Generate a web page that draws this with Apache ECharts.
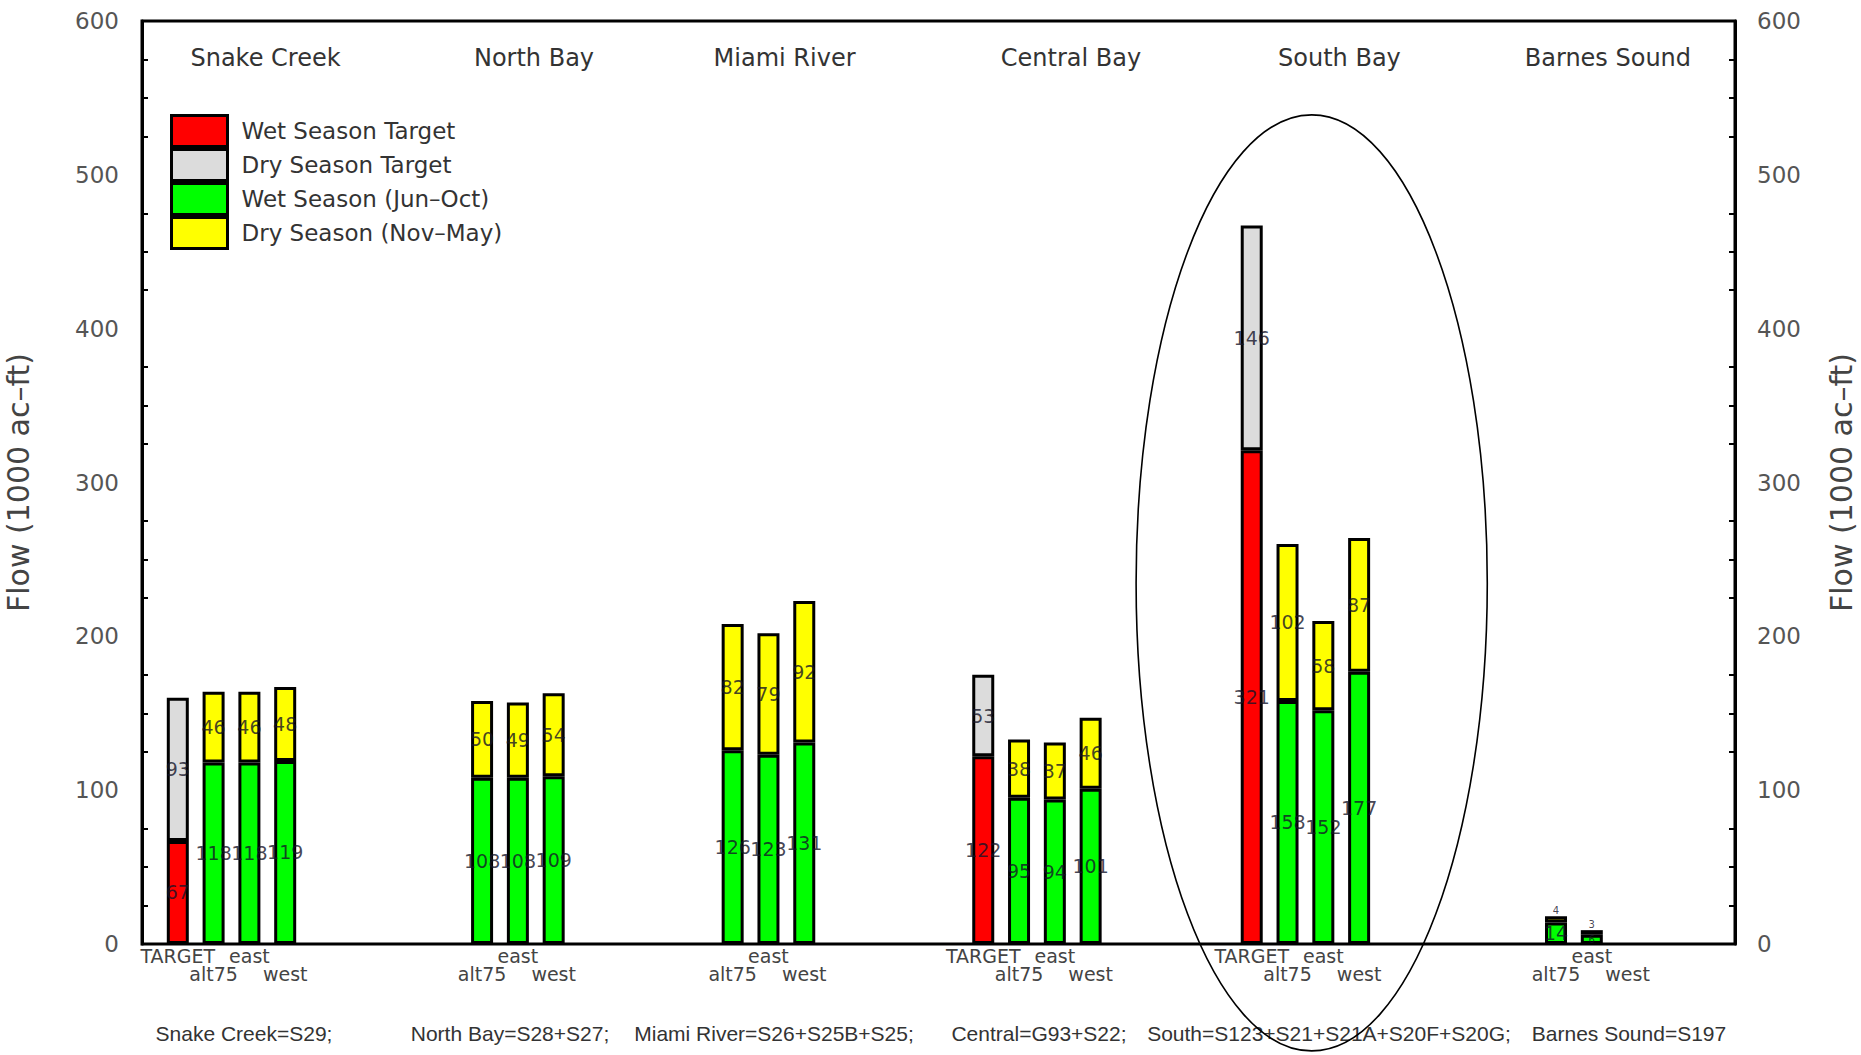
<!DOCTYPE html>
<html><head><meta charset="utf-8">
<script src="https://cdn.jsdelivr.net/npm/echarts@6/dist/echarts.min.js"></script>
<style>html,body{margin:0;padding:0;background:#fff}#c{width:1861px;height:1055px}</style>
</head><body><div id="c"></div>
<script>
// ---- data ----
const regions = ['Snake Creek', 'North Bay', 'Miami River', 'Central Bay', 'South Bay', 'Barnes Sound'];
const regionStart = [1, 8.5, 15.5, 23.5, 31, 38.5];      // x position (slot units) of each region's TARGET slot
const axisEnd = 44.5;                                     // x extent of the plot (slot units)
const slotNames = ['TARGET', 'alt75', 'east', 'west'];
const targetWet = [67, null, null, 122, 321, null];
const targetDry = [93, null, null, 53, 146, null];
const alt75Wet = [118, 108, 126, 95, 158, 14];
const alt75Dry = [46, 50, 82, 38, 102, 4];
const eastWet  = [118, 108, 123, 94, 152, 6];
const eastDry  = [46, 49, 79, 37, 58, 3];
const westWet  = [119, 109, 131, 101, 177, null];
const westDry  = [48, 54, 92, 46, 87, null];
const captions = ['Snake Creek=S29;', 'North Bay=S28+S27;', 'Miami River=S26+S25B+S25;',
                  'Central=G93+S22;', 'South=S123+S21+S21A+S20F+S20G;', 'Barnes Sound=S197'];
const yTicks = [0, 100, 200, 300, 400, 500, 600];
const seriesNames = ['Wet Season Target', 'Dry Season Target', 'Wet Season (Jun\u2013Oct)', 'Dry Season (Nov\u2013May)'];
const seriesColors = ['#ff0000', '#dcdcdc', '#00ff00', '#ffff00'];

// ---- build half-slot category table ----
const N = Math.round(axisEnd * 2) + 1;
const cats = Array.from({ length: N }, (_, i) => String(i / 2));
const wetBySlot = [targetWet, alt75Wet, eastWet, westWet];
const dryBySlot = [targetDry, alt75Dry, eastDry, westDry];
const seriesData = [0, 1, 2, 3].map(() => Array(N).fill(null));
const labelMap = {};
function item(v, isDry) {
  if (v == null) return null;
  if (isDry && v < 10) return { value: v, label: { position: 'top', distance: 1 } };
  return v;
}
regions.forEach((r, i) => {
  slotNames.forEach((s, k) => {
    if (k === 0 && targetWet[i] == null) return;
    const idx = Math.round((regionStart[i] + k) * 2);
    labelMap[idx] = (k % 2 === 0) ? s : '\n' + s;
    const base = k === 0 ? 0 : 2;
    seriesData[base][idx] = item(wetBySlot[k][i], false);
    seriesData[base + 1][idx] = item(dryBySlot[k][i], true);
  });
});

const FONT = 'DejaVu Sans';
const chart = echarts.init(document.getElementById('c'), null, { renderer: 'svg' });

const option = {
  animation: false,
  backgroundColor: '#fff',
  grid: { left: 142, right: 126, top: 21, bottom: 111, outerBoundsMode: 'none', containLabel: false,
          show: true, borderColor: '#000', borderWidth: 3, backgroundColor: 'transparent' },
  legend: {
    orient: 'vertical', left: 170, top: 114, padding: 0,
    itemWidth: 56, itemHeight: 31, itemGap: 0, icon: 'rect',
    data: seriesNames,
    itemStyle: { borderColor: '#000', borderWidth: 3 },
    textStyle: { fontFamily: FONT, fontSize: 23, color: '#333', padding: [0, 0, 0, 9] },
    selectedMode: false
  },
  xAxis: {
    type: 'category', data: cats, boundaryGap: false,
    axisLine: { show: false }, axisTick: { show: false }, splitLine: { show: false },
    axisLabel: {
      interval: 0, margin: 3, fontFamily: FONT, fontSize: 19, lineHeight: 18, color: '#444',
      formatter: (v, idx) => labelMap[idx] || ''
    }
  },
  yAxis: [0, 1].map(i => ({
    type: 'value', min: yTicks[0], max: yTicks[yTicks.length - 1], interval: 100,
    position: i === 0 ? 'left' : 'right',
    name: 'Flow (1000 ac\u2013ft)', nameLocation: 'middle', nameRotate: 90,
    nameGap: i === 0 ? 109 : 91,
    nameTextStyle: { fontFamily: FONT, fontSize: 30, color: '#444' },
    axisLine: { show: true, lineStyle: { color: '#000', width: 3 } },
    axisTick: { show: false, inside: true },
    minorTick: { show: true, splitNumber: 4, length: 6, lineStyle: { color: '#000', width: 2 } },
    splitLine: { show: false },
    axisLabel: { fontFamily: FONT, fontSize: 23, color: '#555', margin: i === 0 ? 23 : 22 }
  })),
  series: seriesNames.map((name, j) => ({
    name: name, type: 'bar', stack: 'all', barWidth: 22,
    data: seriesData[j],
    itemStyle: { color: seriesColors[j], borderColor: '#000', borderWidth: 3 },
    label: {
      show: true, position: 'inside', fontFamily: FONT,
      color: 'rgba(20,20,40,0.8)',
      formatter: p => (p.value == null ? '' : (p.value < 10 ? '{s|' + p.value + '}' : String(p.value))),
      fontSize: 19,
      rich: { s: { fontSize: 10, fontFamily: FONT, color: 'rgba(20,20,40,0.8)' } }
    }
  }))
};
chart.setOption(option);

// ---- annotations positioned through the axes ----
const x0 = chart.convertToPixel({ xAxisIndex: 0 }, cats[0]);
const x1 = chart.convertToPixel({ xAxisIndex: 0 }, cats[N - 1]);
const xPx = p => x0 + p * (x1 - x0) / axisEnd;
const yPx = v => chart.convertToPixel({ yAxisIndex: 0 }, v);
const graphics = [];
regions.forEach((r, i) => {
  graphics.push({ type: 'text', x: xPx(regionStart[i] + 2.45), y: yPx(576), z: 10,
    style: { text: r, fontFamily: FONT, fontSize: 24, fill: '#333', align: 'center', verticalAlign: 'middle' } });
});
const capX = [244, 510, 774, 1039, 1329, 1629];
captions.forEach((c, i) => {
  graphics.push({ type: 'text', x: capX[i], y: 1033, z: 10,
    style: { text: c, fontFamily: 'Liberation Sans', fontSize: 21, fill: '#333', align: 'center', verticalAlign: 'middle' } });
});
// ellipse around South Bay
const eL = [xPx(27.77), yPx(539)], eR = [xPx(37.58), yPx(-69.5)];
graphics.push({ type: 'ellipse', z: 20, silent: true,
  shape: { cx: (eL[0] + eR[0]) / 2, cy: (eL[1] + eR[1]) / 2, rx: (eR[0] - eL[0]) / 2, ry: (eR[1] - eL[1]) / 2 },
  style: { fill: 'none', stroke: '#000', lineWidth: 1.6 } });
chart.setOption({ graphic: graphics });
</script>
</body></html>
